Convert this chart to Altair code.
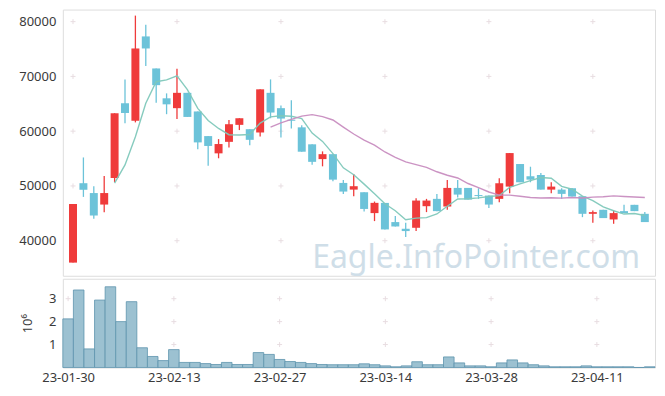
import altair as alt
import pandas as pd

dates = ["23-01-30", "23-01-31", "23-02-01", "23-02-02", "23-02-03", "23-02-06", "23-02-07",
         "23-02-08", "23-02-09", "23-02-10", "23-02-13", "23-02-14", "23-02-15", "23-02-16",
         "23-02-17", "23-02-20", "23-02-21", "23-02-22", "23-02-23", "23-02-24", "23-02-27",
         "23-02-28", "23-03-02", "23-03-03", "23-03-06", "23-03-07", "23-03-08", "23-03-09",
         "23-03-10", "23-03-13", "23-03-14", "23-03-15", "23-03-16", "23-03-17", "23-03-20",
         "23-03-21", "23-03-22", "23-03-23", "23-03-24", "23-03-27", "23-03-28", "23-03-29",
         "23-03-30", "23-03-31", "23-04-03", "23-04-04", "23-04-05", "23-04-06", "23-04-07",
         "23-04-10", "23-04-11", "23-04-12", "23-04-13", "23-04-14", "23-04-17", "23-04-18"]

opens = [36000, 50500, 48700, 46600, 51450, 65100, 61900, 77300, 71450, 66000,
         64200, 67000, 63600, 59100, 55950, 58050, 61150, 60360, 59760, 67000,
         64200, 62100, 60700, 57600, 54900, 55800, 50550, 49330, 48850, 45040,
         46900, 43400, 42180, 42360, 46300, 47640, 46240, 49640, 49640, 48330,
         48240, 47640, 49880, 54000, 51770, 52000, 49330, 49330, 49580, 48120,
         44910, 45640, 43880, 45400, 46550, 44910]
closes = [46700, 49300, 44600, 48700, 63270, 63300, 75100, 75100, 68400, 64900,
          67000, 62600, 57950, 57300, 57650, 61270, 62360, 58420, 67640, 63400,
          62300, 61900, 56250, 54400, 55800, 51150, 48970, 49950, 45800, 46910,
          42060, 42600, 41760, 47330, 47330, 45400, 49640, 48420, 47510, 48150,
          46600, 50490, 56000, 50670, 51150, 49330, 49880, 48550, 48060, 44910,
          45220, 44130, 45040, 45040, 45400, 43400]
highs = [46700, 55200, 49950, 51800, 63270, 69450, 81100, 79450, 71450, 66900,
         71400, 67000, 63600, 59100, 58550, 62060, 62360, 60360, 67640, 69450,
         64700, 65640, 61090, 57600, 56310, 55800, 51090, 52200, 48850, 47150,
         46900, 44500, 43270, 47760, 47640, 48550, 51090, 51090, 49640, 49580,
         48240, 51400, 56000, 54000, 53510, 52360, 50670, 49580, 49580, 48120,
         45520, 45640, 45520, 46550, 46550, 45220]
lows = [36000, 48000, 44000, 45200, 50700, 61450, 61600, 71900, 65200, 63100,
        62200, 62600, 56700, 53700, 55050, 57040, 60200, 57450, 59030, 62360,
        58850, 60490, 56250, 53870, 53580, 50860, 48550, 48130, 45330, 43580,
        42060, 42600, 40670, 41760, 45220, 45400, 45640, 47880, 47510, 47640,
        45950, 47030, 48670, 50670, 50670, 49330, 48670, 47640, 48060, 44300,
        43270, 44130, 43090, 45040, 45400, 43400]
# volume in millions of shares
volumes = [2.12, 3.38, 0.81, 2.94, 3.52, 2.00, 2.87, 0.86, 0.48, 0.30,
           0.78, 0.22, 0.22, 0.17, 0.13, 0.22, 0.13, 0.13, 0.65, 0.57,
           0.35, 0.26, 0.22, 0.17, 0.13, 0.12, 0.12, 0.12, 0.16, 0.12,
           0.07, 0.03, 0.07, 0.25, 0.12, 0.12, 0.46, 0.20, 0.07, 0.07,
           0.03, 0.20, 0.33, 0.20, 0.12, 0.07, 0.03, 0.03, 0.03, 0.07,
           0.03, 0.03, 0.03, 0.03, 0.00, 0.03]

price_ticks = [40000, 50000, 60000, 70000, 80000]
vol_ticks = [1, 2, 3]
x_ticks = [0, 10, 20, 30, 40, 50]

df = pd.DataFrame({"i": list(range(len(dates))), "date": dates, "open": opens,
                   "close": closes, "high": highs, "low": lows, "vol": volumes})

FONT = "Noto Sans"
LABEL = "#3a3a3a"
RED = "#EF3B3B"
BLUE = "#6CC3D9"
W = 594
label_expr = "[" + ",".join(f"'{d}'" for d in dates) + "][datum.value]"

xscale = alt.Scale(domain=[-0.5, len(dates) - 0.5], nice=False, zero=False)
pscale = alt.Scale(domain=[33600, 82200], nice=False, zero=False)

x_none = alt.X("i:Q", scale=xscale, axis=None)
color = alt.condition("datum.close >= datum.open", alt.value(RED), alt.value(BLUE))

base = alt.Chart(df)

grid_df = pd.DataFrame([(x, y) for x in x_ticks for y in price_ticks], columns=["gx", "gy"])
cross = "M-1,0H1M0,-1V1"
pgrid = alt.Chart(grid_df).mark_point(shape=cross, size=25, filled=False, strokeWidth=1,
                                      color="#e8dde1", opacity=1).encode(
    x=alt.X("gx:Q", scale=xscale, axis=None),
    y=alt.Y("gy:Q", scale=pscale,
            axis=alt.Axis(values=price_ticks, title=None, ticks=False, domain=False, grid=False,
                          format="d", labelFont=FONT, labelFontSize=13, labelColor=LABEL,
                          labelPadding=7)))

watermark = alt.Chart(pd.DataFrame({"t": ["Eagle.InfoPointer.com"]})).mark_text(
    align="right", baseline="alphabetic", fontSize=32, font=FONT, color="#cfdee8"
).encode(text="t:N", x=alt.value(579), y=alt.value(259))

wick = base.mark_rule(strokeWidth=1.3).encode(
    x=x_none, y=alt.Y("low:Q", scale=pscale), y2="high:Q", color=color)
body = base.mark_bar(size=8).encode(
    x=x_none, y=alt.Y("open:Q", scale=pscale), y2="close:Q", color=color)

ma5 = base.transform_window(ma="mean(close)", frame=[-4, 0], sort=[{"field": "i"}]).transform_filter(
    "datum.i >= 4").mark_line(color="#7FC8BA", strokeWidth=1.4, opacity=0.95).encode(
    x=x_none, y=alt.Y("ma:Q", scale=pscale))
ma20 = base.transform_window(ma="mean(close)", frame=[-19, 0], sort=[{"field": "i"}]).transform_filter(
    "datum.i >= 19").mark_line(color="#C88DC0", strokeWidth=1.4, opacity=0.95).encode(
    x=x_none, y=alt.Y("ma:Q", scale=pscale))

price = alt.layer(watermark, pgrid, wick, body, ma5, ma20).properties(width=W, height=267)

vscale = alt.Scale(domain=[0, 3.87], nice=False)
vgrid_df = pd.DataFrame([(x, y) for x in x_ticks for y in vol_ticks], columns=["gx", "gy"])
vgrid = alt.Chart(vgrid_df).mark_point(shape=cross, size=25, filled=False, strokeWidth=1,
                                       color="#e8dde1", opacity=1).encode(
    x=alt.X("gx:Q", scale=xscale,
            axis=alt.Axis(values=x_ticks, labelExpr=label_expr, title=None, ticks=False,
                          domain=False, grid=False, labelFont=FONT, labelFontSize=13,
                          labelColor=LABEL, labelPadding=4, labelFlush=False,
                          labelOverlap=False)),
    y=alt.Y("gy:Q", scale=vscale,
            axis=alt.Axis(values=vol_ticks, title="10⁶", ticks=False, domain=False, grid=False,
                          labelFont=FONT, labelFontSize=13, labelColor=LABEL, labelPadding=7,
                          titleFont=FONT, titleFontSize=13, titleColor=LABEL,
                          titleFontWeight="normal", titleX=-28)))
vbars = base.transform_calculate(x0="datum.i - 0.5", x1="datum.i + 0.5").mark_rect(
    fill="#9CC1D1", stroke="#5E94AD", strokeWidth=1, strokeOpacity=0.8).encode(
    x=alt.X("x0:Q", scale=xscale), x2="x1:Q", y=alt.Y("vol:Q", scale=vscale), y2=alt.datum(0))
volume = alt.layer(vgrid, vbars).properties(width=W, height=89)

chart = alt.vconcat(price, volume, spacing=1).properties(
    padding={"left": 10, "top": 0, "right": 1, "bottom": 2}
).configure_view(stroke="#e3dfe1", strokeWidth=1).configure(background="white")

chart.save("out.html", embed_options={"renderer": "svg", "actions": False})
